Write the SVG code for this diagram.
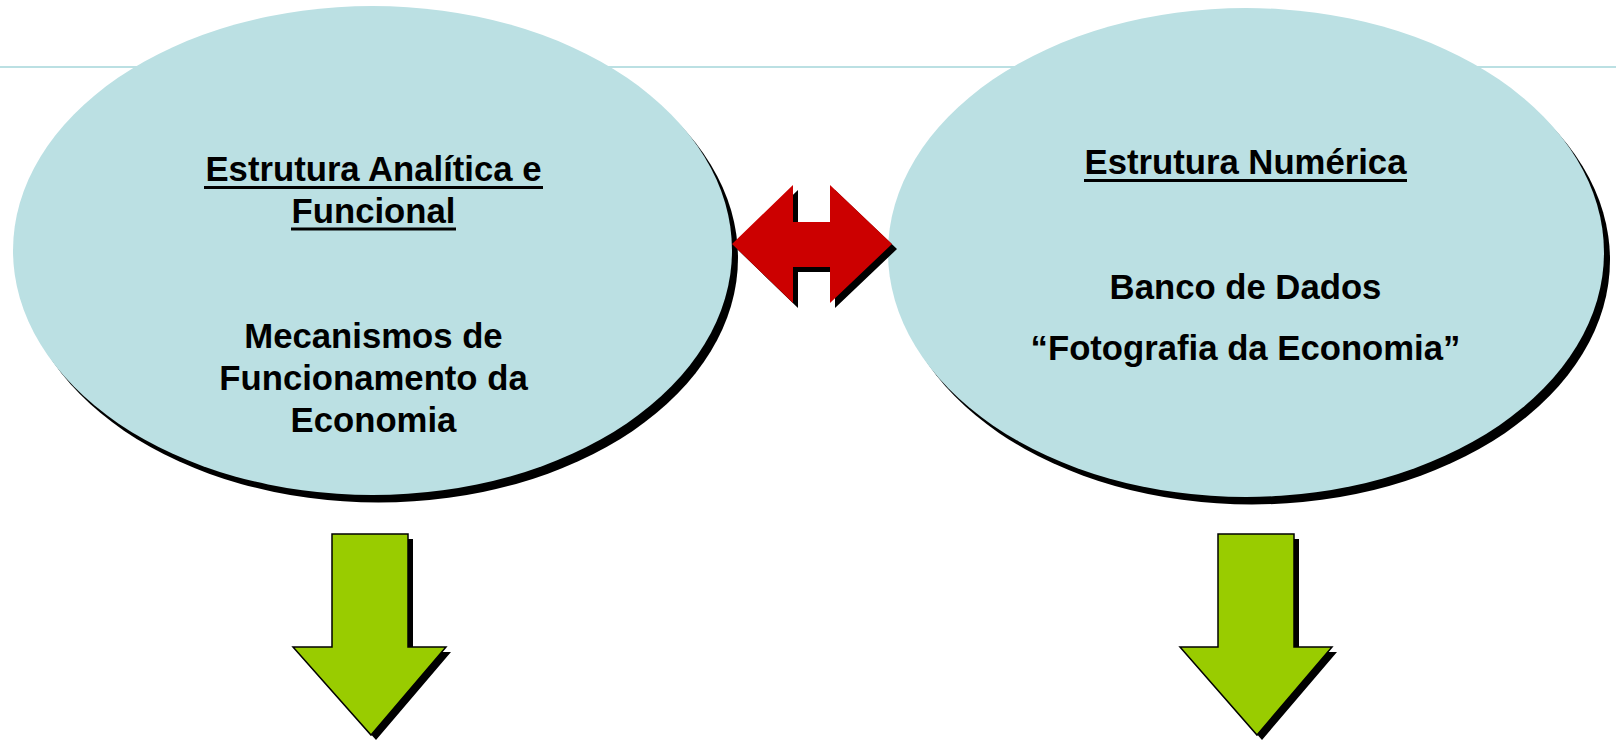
<svg xmlns="http://www.w3.org/2000/svg" width="1616" height="742" viewBox="0 0 1616 742">
<style>
.bg{fill:#ffffff}
.ell{fill:#bbe0e3}
.shadow{fill:#000000}
.t{font-family:"Liberation Sans",Arial,sans-serif;font-weight:bold;font-size:34.7px;fill:#000000;text-anchor:middle}
.ul{stroke:#000000;stroke-width:3}
.green{fill:#99cc00;stroke:#000000;stroke-width:1.5;stroke-linejoin:miter}
.red{fill:#cc0000}
</style>
<rect class="bg" x="0" y="0" width="1616" height="742"/>
<line x1="0" y1="67" x2="1616" y2="67" stroke="#bbe0e3" stroke-width="2"/>
<g id="node-analitica">
<ellipse class="shadow" cx="378.5" cy="258" rx="359.5" ry="244.5"/>
<ellipse class="ell" cx="372.5" cy="250.5" rx="359.5" ry="244.5"/>
<text class="t" x="373.5" y="181">Estrutura Analítica e</text>
<line class="ul" x1="204" y1="187.5" x2="543" y2="187.5"/>
<text class="t" x="373.5" y="223">Funcional</text>
<line class="ul" x1="291" y1="229" x2="456" y2="229"/>
<text class="t" x="373.5" y="348">Mecanismos de</text>
<text class="t" x="373.5" y="390">Funcionamento da</text>
<text class="t" x="373.5" y="432">Economia</text>
</g>
<g id="node-numerica">
<ellipse class="shadow" cx="1252" cy="260" rx="358" ry="244.5"/>
<ellipse class="ell" cx="1246" cy="252.5" rx="358" ry="244.5"/>
<text class="t" x="1245.5" y="174">Estrutura Numérica</text>
<line class="ul" x1="1084" y1="180.5" x2="1407" y2="180.5"/>
<text class="t" x="1245.5" y="299">Banco de Dados</text>
<text class="t" x="1245.5" y="360">“Fotografia da Economia”</text>
</g>
<g id="connectors">
<g id="double-arrow">
<polygon class="shadow" transform="translate(5,5)" points="732,244 793,185 793,222 830,222 830,185 892,244 830,303 830,267 793,267 793,303"/>
<polygon class="red" points="732,244 793,185 793,222 830,222 830,185 892,244 830,303 830,267 793,267 793,303"/>
</g>
<g id="arrow-left-down">
<polygon class="shadow" transform="translate(5,5)" points="332,534 408,534 408,647 446,647 371,735 293,647 332,647"/>
<polygon class="green" points="332,534 408,534 408,647 446,647 371,735 293,647 332,647"/>
</g>
<g id="arrow-right-down">
<polygon class="shadow" transform="translate(5,5)" points="1218,534 1294,534 1294,647 1332,647 1257,735 1180,647 1218,647"/>
<polygon class="green" points="1218,534 1294,534 1294,647 1332,647 1257,735 1180,647 1218,647"/>
</g>
</g>
</svg>
